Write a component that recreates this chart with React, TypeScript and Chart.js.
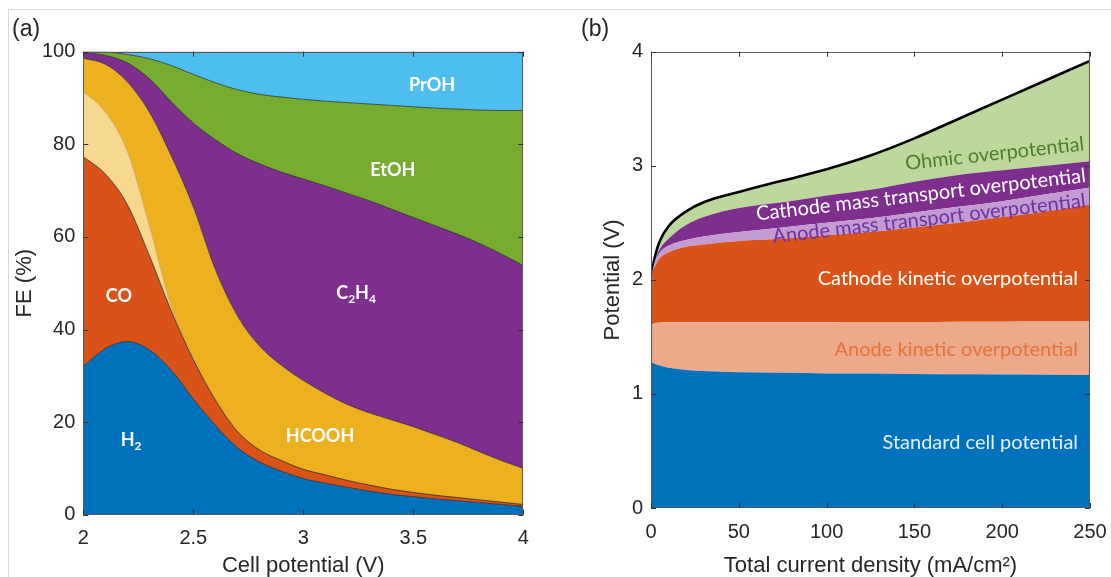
import React, { useEffect, useRef } from "react";
import { Chart, registerables } from "chart.js";
Chart.register(...registerables);

// ---------- Panel (a): Faradaic efficiency vs cell potential ----------
const cellPotential = [2.0, 2.1, 2.2, 2.3, 2.4, 2.5, 2.6, 2.7, 2.8, 2.9, 3.0, 3.1, 3.2, 3.3, 3.4, 3.5, 3.6, 3.7, 3.8, 3.9, 4.0];
const feH2 = [32.0, 35.9, 37.4, 35.6, 31.2, 25.0, 19.3, 14.5, 11.4, 9.4, 7.8, 6.8, 5.9, 5.1, 4.4, 3.9, 3.4, 3.0, 2.6, 2.2, 1.8];
const feCO = [45.3, 37.7, 29.6, 20.4, 12.8, 8.5, 5.5, 3.5, 2.6, 2.3, 2.0, 1.8, 1.5, 1.3, 1.1, 0.9, 0.8, 0.7, 0.6, 0.5, 0.4];
const feOther = [14.1, 13.4, 11.5, 6.5, 1.0, 0.3, 0.1, 0, 0, 0, 0, 0, 0, 0, 0, 0, 0, 0, 0, 0, 0];
const feHCOOH = [7.2, 10.3, 15.0, 24.5, 32.5, 32.7, 28.1, 25.0, 22.5, 20.6, 19.2, 17.6, 16.4, 15.6, 15.0, 14.2, 13.1, 11.9, 10.4, 9.0, 7.8];
const feC2H4 = [1.2, 1.9, 4.1, 7.2, 11.7, 18.1, 28.0, 35.0, 39.3, 41.7, 43.5, 44.8, 45.6, 45.8, 45.5, 45.2, 45.1, 45.0, 45.0, 44.6, 43.8];
const feEtOH = [0.2, 0.7, 1.8, 4.3, 7.8, 10.5, 12.3, 13.8, 15.0, 16.2, 17.2, 18.3, 19.6, 20.9, 22.4, 23.9, 25.4, 27.0, 28.8, 31.0, 33.5];
const fePrOH = [0, 0.1, 0.6, 1.5, 3.0, 4.9, 6.7, 8.2, 9.2, 9.8, 10.3, 10.7, 11.0, 11.3, 11.6, 11.9, 12.2, 12.4, 12.6, 12.7, 12.7];

// ---------- Panel (b): potential breakdown vs current density ----------
const currentDensity = [0, 1, 2, 5, 10, 20, 30, 50, 75, 100, 125, 150, 175, 200, 225, 250];
const standardPotential = [1.28, 1.27, 1.265, 1.25, 1.23, 1.21, 1.2, 1.19, 1.185, 1.18, 1.178, 1.175, 1.172, 1.17, 1.168, 1.165];
const anodeKinetic = [0.32, 0.34, 0.355, 0.375, 0.398, 0.418, 0.428, 0.438, 0.443, 0.448, 0.452, 0.455, 0.46, 0.463, 0.466, 0.47];
const cathodeKinetic = [0.4, 0.46, 0.49, 0.565, 0.612, 0.662, 0.682, 0.712, 0.732, 0.762, 0.79, 0.83, 0.868, 0.917, 0.966, 1.025];
const anodeMass = [0, 0.02, 0.04, 0.05, 0.06, 0.06, 0.07, 0.08, 0.1, 0.11, 0.12, 0.13, 0.14, 0.14, 0.15, 0.15];
const cathodeMass = [0, 0.01, 0.01, 0.03, 0.06, 0.13, 0.17, 0.21, 0.22, 0.24, 0.25, 0.27, 0.28, 0.27, 0.25, 0.23];
const ohmic = [0, 0.01, 0.03, 0.07, 0.11, 0.12, 0.13, 0.14, 0.19, 0.23, 0.3, 0.38, 0.49, 0.62, 0.75, 0.88];

const xTicksA = [2, 2.5, 3, 3.5, 4];
const yTicksA = [0, 20, 40, 60, 80, 100];
const xTicksB = [0, 50, 100, 150, 200, 250];
const yTicksB = [0, 1, 2, 3, 4];

const AXIS_FONT = "'Liberation Sans', Arial, sans-serif";
const LABEL_FONT = "Lato, 'Open Sans', sans-serif";
const TEXT_COLOR = "#262626";

type Part = { t: string; sub?: boolean };
type Label = {
  parts: Part[];
  x: number;
  y: number;
  color: string;
  size: number;
  bold?: boolean;
  align?: "center" | "right";
  angle?: number;
};

const labelsA: Label[] = [
  { parts: [{ t: "PrOH" }], x: 3.585, y: 92.8, color: "#ffffff", size: 18, bold: true },
  { parts: [{ t: "EtOH" }], x: 3.407, y: 74.5, color: "#ffffff", size: 18, bold: true },
  { parts: [{ t: "C" }, { t: "2", sub: true }, { t: "H" }, { t: "4", sub: true }], x: 3.24, y: 47.9, color: "#ffffff", size: 18, bold: true },
  { parts: [{ t: "CO" }], x: 2.162, y: 47.2, color: "#ffffff", size: 18, bold: true },
  { parts: [{ t: "H" }, { t: "2", sub: true }], x: 2.217, y: 16.1, color: "#ffffff", size: 18, bold: true },
  { parts: [{ t: "HCOOH" }], x: 3.076, y: 17.0, color: "#ffffff", size: 18, bold: true },
];

const labelsB: Label[] = [
  { parts: [{ t: "Ohmic overpotential" }], x: 195.7, y: 3.105, color: "#4f7d2f", size: 20, angle: -6.3 },
  { parts: [{ t: "Cathode mass transport overpotential" }], x: 153.7, y: 2.745, color: "#ffffff", size: 20, angle: -6.7 },
  { parts: [{ t: "Anode mass transport overpotential" }], x: 158.3, y: 2.535, color: "#7030a0", size: 20, angle: -6.6 },
  { parts: [{ t: "Cathode kinetic overpotential" }], x: 243.2, y: 2.01, color: "#ffffff", size: 20, align: "right" },
  { parts: [{ t: "Anode kinetic overpotential" }], x: 243.2, y: 1.386, color: "#e6733a", size: 20, align: "right" },
  { parts: [{ t: "Standard cell potential" }], x: 243.2, y: 0.57, color: "#e8f1fb", size: 20, align: "right" },
];

function drawLabels(chart: any, labels: Label[]) {
  const { ctx, scales } = chart;
  ctx.save();
  for (const l of labels) {
    const px = scales.x.getPixelForValue(l.x);
    const py = scales.y.getPixelForValue(l.y);
    const weight = l.bold ? "bold " : "";
    const mainFont = `${weight}${l.size}px ${LABEL_FONT}`;
    const subFont = `${weight}${Math.round(l.size * 0.68)}px ${LABEL_FONT}`;
    let total = 0;
    const widths = l.parts.map((p) => {
      ctx.font = p.sub ? subFont : mainFont;
      const w = ctx.measureText(p.t).width;
      total += w;
      return w;
    });
    ctx.translate(px, py);
    if (l.angle) ctx.rotate((l.angle * Math.PI) / 180);
    let cx = l.align === "right" ? -total : -total / 2;
    ctx.fillStyle = l.color;
    ctx.textBaseline = "middle";
    ctx.textAlign = "left";
    l.parts.forEach((p, i) => {
      ctx.font = p.sub ? subFont : mainFont;
      ctx.fillText(p.t, cx, p.sub ? l.size * 0.32 : 0);
      cx += widths[i];
    });
    ctx.setTransform(1, 0, 0, 1, 0, 0);
  }
  ctx.restore();
}

function drawBox(chart: any) {
  const { ctx, chartArea, scales } = chart;
  const { left, right, top, bottom } = chartArea;
  ctx.save();
  ctx.strokeStyle = "#5a5a5a";
  ctx.lineWidth = 1;
  ctx.strokeRect(Math.round(left) + 0.5, Math.round(top) + 0.5, Math.round(right - left) - 1, Math.round(bottom - top) - 1);
  ctx.strokeStyle = "#303030";
  ctx.beginPath();
  const tl = 5;
  for (const t of scales.x.ticks) {
    const x = Math.round(scales.x.getPixelForValue(t.value)) + 0.5;
    ctx.moveTo(x, bottom);
    ctx.lineTo(x, bottom - tl);
    ctx.moveTo(x, top);
    ctx.lineTo(x, top + tl);
  }
  for (const t of scales.y.ticks) {
    const y = Math.round(scales.y.getPixelForValue(t.value)) + 0.5;
    ctx.moveTo(left, y);
    ctx.lineTo(left + tl, y);
    ctx.moveTo(right, y);
    ctx.lineTo(right - tl, y);
  }
  ctx.stroke();
  ctx.restore();
}

function series(xs: number[], ys: number[]) {
  return xs.map((x, i) => ({ x, y: ys[i] }));
}

function makeOptions(cfg: {
  xMin: number; xMax: number; yMin: number; yMax: number;
  xTicks: number[]; yTicks: number[];
  xTitle: string; yTitle: string;
  padTop: number; padRight: number; yWidth: number; xHeight: number; yTitlePad: number;
}) {
  const tickFont = { family: AXIS_FONT, size: 20 };
  const titleFont = { family: AXIS_FONT, size: 22 };
  return {
    animation: false,
    responsive: false,
    maintainAspectRatio: false,
    layout: { padding: { top: cfg.padTop, right: cfg.padRight, left: 0, bottom: 0 } },
    plugins: { legend: { display: false }, tooltip: { enabled: false } },
    elements: { point: { radius: 0 }, line: { cubicInterpolationMode: "monotone" } },
    scales: {
      x: {
        type: "linear",
        min: cfg.xMin,
        max: cfg.xMax,
        afterBuildTicks: (s: any) => { s.ticks = cfg.xTicks.map((v) => ({ value: v })); },
        ticks: { font: tickFont, color: TEXT_COLOR, padding: 12, maxRotation: 0, callback: (v: any) => String(v) },
        grid: { display: false, drawTicks: false },
        border: { display: false },
        title: { display: true, text: cfg.xTitle, font: titleFont, color: TEXT_COLOR, padding: { top: 0, bottom: -2 } },
        afterFit: (s: any) => { s.height = cfg.xHeight; s.paddingLeft = 0; s.paddingRight = 0; },
      },
      y: {
        type: "linear",
        stacked: true,
        min: cfg.yMin,
        max: cfg.yMax,
        afterBuildTicks: (s: any) => { s.ticks = cfg.yTicks.map((v) => ({ value: v })); },
        ticks: { font: tickFont, color: TEXT_COLOR, padding: 8, callback: (v: any) => String(v) },
        grid: { display: false, drawTicks: false },
        border: { display: false },
        title: { display: true, text: cfg.yTitle, font: titleFont, color: TEXT_COLOR, padding: { top: cfg.yTitlePad, bottom: 0 } },
        afterFit: (s: any) => { s.width = cfg.yWidth; s.paddingTop = 0; s.paddingBottom = 0; },
      },
    },
  };
}

function PanelA() {
  const ref = useRef<HTMLCanvasElement>(null);
  useEffect(() => {
    if (!ref.current) return;
    const edge = "rgba(25,25,25,0.75)";
    const ds = (label: string, ys: number[], color: string, border: string, fill: any) => ({
      label, data: series(cellPotential, ys), backgroundColor: color, borderColor: border,
      borderWidth: 0.9, fill, pointRadius: 0,
    });
    const chart = new Chart(ref.current, {
      type: "line",
      data: {
        datasets: [
          ds("H2", feH2, "#0072bd", edge, "origin"),
          ds("CO", feCO, "#d95319", edge, "-1"),
          ds("Other", feOther, "#f6d98f", "#c9a862", "-1"),
          ds("HCOOH", feHCOOH, "#edb120", edge, "-1"),
          ds("C2H4", feC2H4, "#7e2f8e", edge, "-1"),
          ds("EtOH", feEtOH, "#77ac30", edge, "-1"),
          ds("PrOH", fePrOH, "#4dbeee", edge, "-1"),
        ],
      },
      options: makeOptions({
        xMin: 2, xMax: 4, yMin: 0, yMax: 100, xTicks: xTicksA, yTicks: yTicksA,
        xTitle: "Cell potential (V)", yTitle: "FE (%)",
        padTop: 51.7, padRight: 36.7, yWidth: 83.3, xHeight: 62.3, yTitlePad: 11.8,
      }) as any,
      plugins: [{ id: "decorA", afterDatasetsDraw: (c: any) => { drawBox(c); drawLabels(c, labelsA); } }],
    });
    return () => chart.destroy();
  }, []);
  return <canvas ref={ref} width={560} height={577} style={{ position: "absolute", left: 0, top: 0, width: 560, height: 577 }} />;
}

function PanelB() {
  const ref = useRef<HTMLCanvasElement>(null);
  useEffect(() => {
    if (!ref.current) return;
    const ds = (label: string, ys: number[], color: string, fill: any, border = "rgba(0,0,0,0)", bw = 0) => ({
      label, data: series(currentDensity, ys), backgroundColor: color, borderColor: border,
      borderWidth: bw, fill, pointRadius: 0,
    });
    const chart = new Chart(ref.current, {
      type: "line",
      data: {
        datasets: [
          ds("Standard cell potential", standardPotential, "#0072bd", "origin"),
          ds("Anode kinetic overpotential", anodeKinetic, "#eda98b", "-1"),
          ds("Cathode kinetic overpotential", cathodeKinetic, "#d95319", "-1"),
          ds("Anode mass transport overpotential", anodeMass, "#c29bd0", "-1"),
          ds("Cathode mass transport overpotential", cathodeMass, "#7e2f8e", "-1"),
          ds("Ohmic overpotential", ohmic, "#bcd89c", "-1", "#000000", 2.6),
        ],
      },
      options: makeOptions({
        xMin: 0, xMax: 250, yMin: 0, yMax: 4, xTicks: xTicksB, yTicks: yTicksB,
        xTitle: "Total current density (mA/cm²)", yTitle: "Potential (V)",
        padTop: 51.7, padRight: 21, yWidth: 91, xHeight: 69, yTitlePad: 39.5,
      }) as any,
      plugins: [{ id: "decorB", afterDatasetsDraw: (c: any) => { drawBox(c); drawLabels(c, labelsB); } }],
    });
    return () => chart.destroy();
  }, []);
  return <canvas ref={ref} width={551} height={577} style={{ position: "absolute", left: 560, top: 0, width: 551, height: 577 }} />;
}

export default function App() {
  const panelTag: React.CSSProperties = {
    position: "absolute", fontFamily: AXIS_FONT, fontSize: 23, lineHeight: "24px", color: TEXT_COLOR,
  };
  return (
    <div style={{ position: "fixed", left: 0, top: 0, width: 1111, height: 577, background: "#ffffff", overflow: "hidden" }}>
      <div style={{ position: "absolute", left: 8, top: 9, right: 0, bottom: 0, borderTop: "1px solid #d9d9d9", borderLeft: "1px solid #d9d9d9" }} />
      <PanelA />
      <PanelB />
      <div style={{ ...panelTag, left: 12, top: 16 }}>(a)</div>
      <div style={{ ...panelTag, left: 581, top: 16 }}>(b)</div>
    </div>
  );
}
